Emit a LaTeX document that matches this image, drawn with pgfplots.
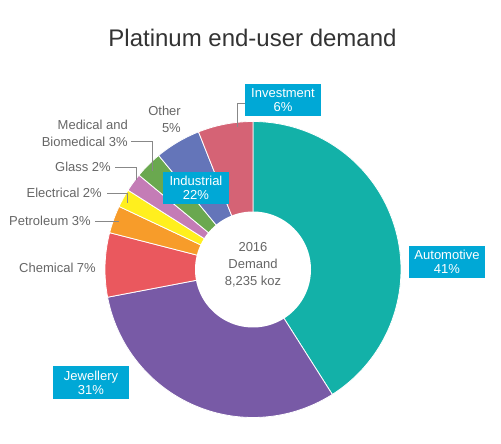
\documentclass[border=0pt]{standalone}
\usepackage{pgfplots}
\usepackage{pgfplotstable}
\pgfplotsset{compat=1.18}
\usepackage{fontspec}
\setmainfont{Liberation Sans}
\definecolor{cAuto}{HTML}{13B1A8}
\definecolor{cJew}{HTML}{785AA6}
\definecolor{cChem}{HTML}{EA585E}
\definecolor{cPet}{HTML}{F79C2A}
\definecolor{cElec}{HTML}{FFEF1E}
\definecolor{cGlass}{HTML}{C47CB6}
\definecolor{cMed}{HTML}{6AA84F}
\definecolor{cOther}{HTML}{6475B9}
\definecolor{cInv}{HTML}{D56375}
\definecolor{boxc}{HTML}{00A8D6}
\definecolor{labc}{HTML}{666666}
\definecolor{titc}{HTML}{333333}
\definecolor{linec}{HTML}{888888}

\pgfplotstableread{
name value color
Automotive 41 cAuto
Jewellery 31 cJew
Chemical 7 cChem
Petroleum 3 cPet
Electrical 2 cElec
Glass 2 cGlass
Medical 3 cMed
Other 5 cOther
Investment 6 cInv
}\demand

\begin{document}
\begin{tikzpicture}
\begin{axis}[scale only axis, width=501pt, height=444pt,
  xmin=0, xmax=501, ymin=0, ymax=444, hide axis, clip=false]
\path (axis cs:0,0) rectangle (axis cs:501,444);
\def\cum{0}
\pgfplotsforeachungrouped \i in {0,...,8}{%
  \pgfplotstablegetelem{\i}{value}\of\demand \let\v\pgfplotsretval
  \pgfplotstablegetelem{\i}{color}\of\demand \let\c\pgfplotsretval
  \pgfmathsetmacro\a{90-3.6*\cum}%
  \pgfmathsetmacro\cum{\cum+\v}%
  \pgfmathsetmacro\b{90-3.6*\cum}%
  \edef\tmp{\noexpand\addplot[fill=\c, draw=white, line width=0.8pt, domain=\b:\a, samples=80] ({253+148*cos(x)},{174.5+148*sin(x)}) -- (axis cs:253,174.5) -- cycle;}%
  \tmp
}
\addplot[fill=white, draw=none, domain=0:360, samples=120] ({253+58*cos(x)},{174.5+58*sin(x)}) -- cycle;

% title
\node[anchor=base, text=titc, font=\fontsize{24}{28}\selectfont] at (axis cs:252.5,397) {Platinum end-user demand};

% centre text
\node[align=center, text=labc, font=\fontsize{13}{17}\selectfont] at (axis cs:253,179) {2016\\Demand\\8,235 koz};

% leader lines
\draw[linec, line width=0.9pt] (axis cs:245,341) -- (axis cs:237,341) -- (axis cs:237,317);
\draw[linec, line width=0.9pt] (axis cs:131,303) -- (axis cs:152,303) -- (axis cs:152,273);
\draw[linec, line width=0.9pt] (axis cs:115,277) -- (axis cs:136,277) -- (axis cs:136,264);
\draw[linec, line width=0.9pt] (axis cs:107,251) -- (axis cs:127,251) -- (axis cs:127,241);
\draw[linec, line width=0.9pt] (axis cs:95,223) -- (axis cs:119,223);

% grey labels
\begin{scope}[every node/.style={anchor=east, inner sep=0pt, align=right, text=labc, font=\fontsize{13}{17}\selectfont}]
\node at (axis cs:181,324.5) {Other\\5\%};
\node at (axis cs:128,310.5) {Medical and\\Biomedical 3\%};
\node at (axis cs:111,277) {Glass 2\%};
\node at (axis cs:102,251) {Electrical 2\%};
\node at (axis cs:91,223) {Petroleum 3\%};
\node at (axis cs:96,176) {Chemical 7\%};
\end{scope}

% boxes
\begin{scope}[every node/.style={fill=boxc, text=white, align=center, inner sep=0pt, font=\fontsize{13}{14}\selectfont}]
\node[minimum width=76pt, minimum height=32pt] at (axis cs:283,344) {Investment\\6\%};
\node[minimum width=66pt, minimum height=32pt] at (axis cs:196,256) {Industrial\\22\%};
\node[minimum width=76pt, minimum height=32pt] at (axis cs:447,182) {Automotive\\41\%};
\node[minimum width=76pt, minimum height=33pt] at (axis cs:91,61.5) {Jewellery\\31\%};
\end{scope}
\end{axis}
\end{tikzpicture}
\end{document}
